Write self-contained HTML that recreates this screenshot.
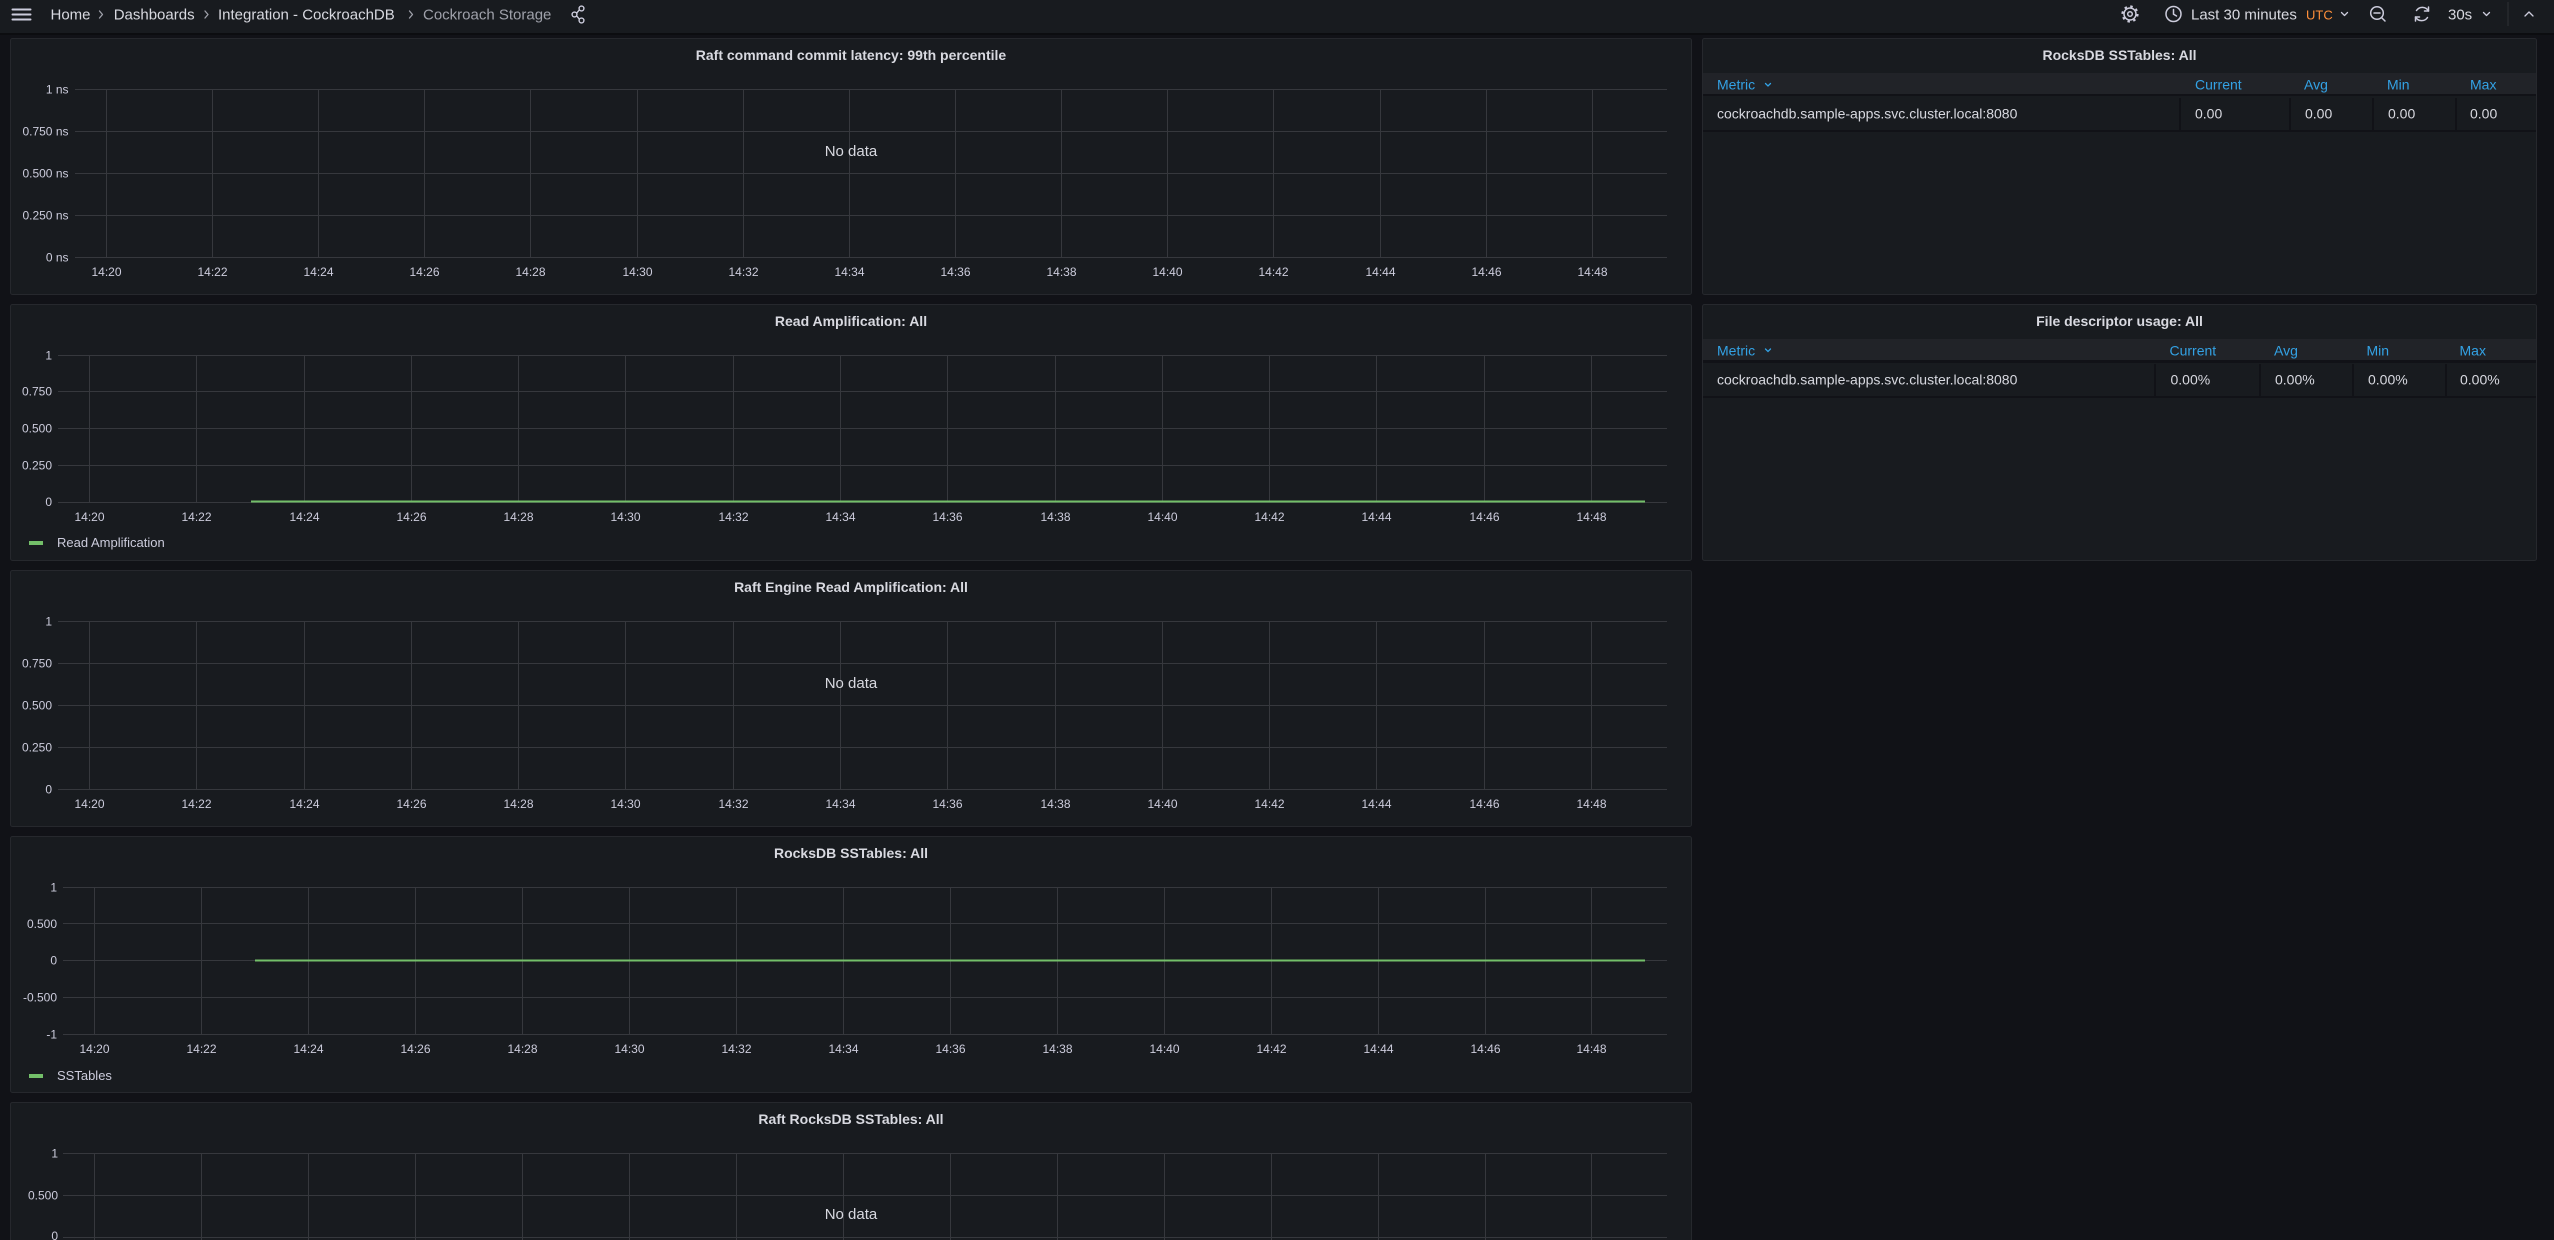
<!DOCTYPE html>
<html>
<head>
<meta charset="utf-8">
<style>
html,body{margin:0;padding:0;background:#111217;width:2554px;height:1240px;overflow:hidden;}
svg{display:block;font-family:"Liberation Sans",Arial,sans-serif;}
</style>
</head>
<body>
<svg width="2554" height="1240" viewBox="0 0 2554 1240" xmlns="http://www.w3.org/2000/svg">
<rect x="0" y="0" width="2554" height="1240" fill="#111217"/>

<!-- TOP BAR -->
<rect x="0" y="0" width="2554" height="33" fill="#181b1f"/>
<rect x="0" y="33" width="2554" height="2" fill="#0c0d10"/>
<g stroke="#ccccdc" stroke-width="2" stroke-linecap="round">
<path d="M12.5 9.5H30.5M12.5 14.5H30.5M12.5 19.5H30.5"/>
</g>
<g font-size="15" fill="#d8d9e0">
<text x="50.5" y="19.5">Home</text>
<text x="113.7" y="19.5">Dashboards</text>
<text x="218" y="19.5">Integration - CockroachDB</text>
<text x="423" y="19.5" fill="#9fa1aa">Cockroach Storage</text>
</g>
<g fill="none" stroke="#9fa1aa" stroke-width="1.3" stroke-linecap="round" stroke-linejoin="round">
<path d="M99.5 11L102.5 14.5L99.5 18"/>
<path d="M205 11L208 14.5L205 18"/>
<path d="M409.5 11L412.5 14.5L409.5 18"/>
</g>
<!-- share -->
<g fill="none" stroke="#ccccdc" stroke-width="1.4">
<circle cx="581.5" cy="8.5" r="2.4"/>
<circle cx="574.5" cy="14.5" r="2.4"/>
<circle cx="581.5" cy="20.5" r="2.4"/>
<path d="M576.6 13.2L579.4 9.8M576.6 15.8L579.4 19.2"/>
</g>
<!-- gear -->
<g fill="none" stroke="#ccccdc" stroke-width="1.5">
<circle cx="2130" cy="14" r="6"/>
<circle cx="2130" cy="14" r="2.3"/>
<circle cx="2130" cy="14" r="7.6" stroke-dasharray="2.5 3.47" stroke-width="2"/>
</g>
<!-- clock -->
<g fill="none" stroke="#ccccdc" stroke-width="1.5" stroke-linecap="round">
<circle cx="2173.5" cy="14" r="7.5"/>
<path d="M2173.5 9.5V14.2L2176.5 16"/>
</g>
<text x="2191" y="19.5" font-size="15" fill="#d8d9e0">Last 30 minutes</text>
<text x="2306" y="19.5" font-size="13" fill="#ff8f3a">UTC</text>
<g fill="none" stroke="#ccccdc" stroke-width="1.3" stroke-linecap="round" stroke-linejoin="round">
<path d="M2341.5 12.5L2344.5 15.5L2347.5 12.5"/>
<path d="M2483.5 12.5L2486.5 15.5L2489.5 12.5"/>
<path d="M2525 16L2529 12L2533 16"/>
</g>
<!-- zoom out -->
<g fill="none" stroke="#ccccdc" stroke-width="1.5" stroke-linecap="round">
<circle cx="2377" cy="13" r="6.3"/>
<path d="M2381.6 17.6L2385 21M2374 13H2380"/>
</g>
<!-- refresh -->
<g fill="none" stroke="#ccccdc" stroke-width="1.5" stroke-linecap="round" stroke-linejoin="round">
<path d="M2416.5 10.5A7 7 0 0 1 2428.5 11"/>
<path d="M2427.5 17.5A7 7 0 0 1 2415.5 17"/>
<path d="M2428.5 7V11H2424.5"/>
<path d="M2415.5 21V17H2419.5"/>
</g>
<text x="2448" y="19.5" font-size="15" fill="#d8d9e0">30s</text>
<rect x="2507.5" y="2" width="1" height="24" fill="#2e3036"/>

<!-- PANELS backgrounds -->
<g fill="#181b1f" stroke="#26282d" stroke-width="1">
<rect x="10.5" y="38.5" width="1681" height="256" rx="2"/>
<rect x="10.5" y="304.5" width="1681" height="256" rx="2"/>
<rect x="10.5" y="570.5" width="1681" height="256" rx="2"/>
<rect x="10.5" y="836.5" width="1681" height="256" rx="2"/>
<path d="M10.5 1240V1104.5Q10.5 1102.5 12.5 1102.5H1689.5Q1691.5 1102.5 1691.5 1104.5V1240"/>
<rect x="1702.5" y="38.5" width="834" height="256" rx="2"/>
<rect x="1702.5" y="304.5" width="834" height="256" rx="2"/>
</g>

<!-- PANEL TITLES -->
<g font-size="14" font-weight="bold" fill="#d8d9e0" text-anchor="middle">
<text x="851" y="60">Raft command commit latency: 99th percentile</text>
<text x="851" y="326">Read Amplification: All</text>
<text x="851" y="592">Raft Engine Read Amplification: All</text>
<text x="851" y="858">RocksDB SSTables: All</text>
<text x="851" y="1124">Raft RocksDB SSTables: All</text>
<text x="2119.5" y="60">RocksDB SSTables: All</text>
<text x="2119.5" y="326">File descriptor usage: All</text>
</g>

<!-- GRIDS -->
<g fill="none" stroke="#36383d" stroke-width="1" shape-rendering="crispEdges">
<!-- P1 -->
<path d="M75 89.5H1667M75 131.5H1667M75 173.5H1667M75 215.5H1667M75 257.5H1667"/>
<path d="M106.5 89.5V257.5M212.5 89.5V257.5M318.5 89.5V257.5M424.5 89.5V257.5M530.5 89.5V257.5M637.5 89.5V257.5M743.5 89.5V257.5M849.5 89.5V257.5M955.5 89.5V257.5M1061.5 89.5V257.5M1167.5 89.5V257.5M1273.5 89.5V257.5M1380.5 89.5V257.5M1486.5 89.5V257.5M1592.5 89.5V257.5"/>
<!-- P2 -->
<path d="M58 355.5H1667M58 391.5H1667M58 428.5H1667M58 465.5H1667M58 502.5H1667"/>
<path d="M89.5 355.5V502.5M196.5 355.5V502.5M304.5 355.5V502.5M411.5 355.5V502.5M518.5 355.5V502.5M625.5 355.5V502.5M733.5 355.5V502.5M840.5 355.5V502.5M947.5 355.5V502.5M1055.5 355.5V502.5M1162.5 355.5V502.5M1269.5 355.5V502.5M1376.5 355.5V502.5M1484.5 355.5V502.5M1591.5 355.5V502.5"/>
<!-- P3 -->
<path d="M58 621.5H1667M58 663.5H1667M58 705.5H1667M58 747.5H1667M58 789.5H1667"/>
<path d="M89.5 621.5V789.5M196.5 621.5V789.5M304.5 621.5V789.5M411.5 621.5V789.5M518.5 621.5V789.5M625.5 621.5V789.5M733.5 621.5V789.5M840.5 621.5V789.5M947.5 621.5V789.5M1055.5 621.5V789.5M1162.5 621.5V789.5M1269.5 621.5V789.5M1376.5 621.5V789.5M1484.5 621.5V789.5M1591.5 621.5V789.5"/>
<!-- P4 -->
<path d="M63 887.5H1667M63 923.5H1667M63 960.5H1667M63 997.5H1667M63 1034.5H1667"/>
<path d="M94.5 887.5V1034.5M201.5 887.5V1034.5M308.5 887.5V1034.5M415.5 887.5V1034.5M522.5 887.5V1034.5M629.5 887.5V1034.5M736.5 887.5V1034.5M843.5 887.5V1034.5M950.5 887.5V1034.5M1057.5 887.5V1034.5M1164.5 887.5V1034.5M1271.5 887.5V1034.5M1378.5 887.5V1034.5M1485.5 887.5V1034.5M1591.5 887.5V1034.5"/>
<!-- P5 -->
<path d="M63 1153.5H1667M63 1195.5H1667M63 1237.5H1667"/>
<path d="M94.5 1153.5V1240M201.5 1153.5V1240M308.5 1153.5V1240M415.5 1153.5V1240M522.5 1153.5V1240M629.5 1153.5V1240M736.5 1153.5V1240M843.5 1153.5V1240M950.5 1153.5V1240M1057.5 1153.5V1240M1164.5 1153.5V1240M1271.5 1153.5V1240M1378.5 1153.5V1240M1485.5 1153.5V1240M1591.5 1153.5V1240"/>
</g>

<!-- SERIES -->
<g stroke="#73bf69" stroke-width="2" fill="none">
<path d="M251 501.5H1645"/>
<path d="M255 960.5H1645"/>
</g>

<!-- Y LABELS -->
<g font-size="12" fill="#ccccdc" text-anchor="end">
<text x="68.5" y="93.5">1 ns</text>
<text x="68.5" y="135.5">0.750 ns</text>
<text x="68.5" y="177.5">0.500 ns</text>
<text x="68.5" y="219.5">0.250 ns</text>
<text x="68.5" y="261.5">0 ns</text>

<text x="52" y="359.5">1</text>
<text x="52" y="395.7">0.750</text>
<text x="52" y="432.7">0.500</text>
<text x="52" y="469.7">0.250</text>
<text x="52" y="506.2">0</text>

<text x="52" y="625.5">1</text>
<text x="52" y="667.5">0.750</text>
<text x="52" y="709.5">0.500</text>
<text x="52" y="751.5">0.250</text>
<text x="52" y="793.5">0</text>

<text x="57" y="891.5">1</text>
<text x="57" y="928">0.500</text>
<text x="57" y="964.5">0</text>
<text x="57" y="1001.5">-0.500</text>
<text x="57" y="1038.5">-1</text>

<text x="58" y="1157.5">1</text>
<text x="58" y="1199.5">0.500</text>
<text x="58" y="1240">0</text>
</g>

<!-- X LABELS -->
<g font-size="12" fill="#ccccdc" text-anchor="middle">
<g transform="translate(0,276)">
<text x="106.5">14:20</text><text x="212.5">14:22</text><text x="318.5">14:24</text><text x="424.5">14:26</text><text x="530.5">14:28</text><text x="637.5">14:30</text><text x="743.5">14:32</text><text x="849.5">14:34</text><text x="955.5">14:36</text><text x="1061.5">14:38</text><text x="1167.5">14:40</text><text x="1273.5">14:42</text><text x="1380.5">14:44</text><text x="1486.5">14:46</text><text x="1592.5">14:48</text>
</g>
<g transform="translate(0,521)">
<text x="89.5">14:20</text><text x="196.5">14:22</text><text x="304.5">14:24</text><text x="411.5">14:26</text><text x="518.5">14:28</text><text x="625.5">14:30</text><text x="733.5">14:32</text><text x="840.5">14:34</text><text x="947.5">14:36</text><text x="1055.5">14:38</text><text x="1162.5">14:40</text><text x="1269.5">14:42</text><text x="1376.5">14:44</text><text x="1484.5">14:46</text><text x="1591.5">14:48</text>
</g>
<g transform="translate(0,808.2)">
<text x="89.5">14:20</text><text x="196.5">14:22</text><text x="304.5">14:24</text><text x="411.5">14:26</text><text x="518.5">14:28</text><text x="625.5">14:30</text><text x="733.5">14:32</text><text x="840.5">14:34</text><text x="947.5">14:36</text><text x="1055.5">14:38</text><text x="1162.5">14:40</text><text x="1269.5">14:42</text><text x="1376.5">14:44</text><text x="1484.5">14:46</text><text x="1591.5">14:48</text>
</g>
<g transform="translate(0,1053.2)">
<text x="94.5">14:20</text><text x="201.5">14:22</text><text x="308.5">14:24</text><text x="415.5">14:26</text><text x="522.5">14:28</text><text x="629.5">14:30</text><text x="736.5">14:32</text><text x="843.5">14:34</text><text x="950.5">14:36</text><text x="1057.5">14:38</text><text x="1164.5">14:40</text><text x="1271.5">14:42</text><text x="1378.5">14:44</text><text x="1485.5">14:46</text><text x="1591.5">14:48</text>
</g>
</g>

<!-- NO DATA -->
<g font-size="15" fill="#d8d9e0" text-anchor="middle">
<text x="851" y="156">No data</text>
<text x="851" y="688">No data</text>
<text x="851" y="1219">No data</text>
</g>

<!-- LEGENDS -->
<rect x="29" y="541" width="14" height="4" fill="#73bf69"/>
<text x="57" y="547.2" font-size="13" fill="#ccccdc">Read Amplification</text>
<rect x="29" y="1074" width="14" height="4" fill="#73bf69"/>
<text x="57" y="1080.2" font-size="13" fill="#ccccdc">SSTables</text>

<!-- RIGHT TABLE 1 -->
<rect x="1703" y="73" width="833" height="21" fill="#212328"/>
<rect x="1703" y="94" width="833" height="2" fill="#111217"/>
<rect x="1703" y="130" width="833" height="2" fill="#111217"/>
<g fill="#111217">
<rect x="2179" y="98" width="2" height="32"/>
<rect x="2289" y="98" width="2" height="32"/>
<rect x="2372" y="98" width="2" height="32"/>
<rect x="2455" y="98" width="2" height="32"/>
</g>
<g font-size="14" fill="#33a2e5">
<text x="1717" y="89.7">Metric</text>
<text x="2195" y="89.7">Current</text>
<text x="2304" y="89.7">Avg</text>
<text x="2387" y="89.7">Min</text>
<text x="2470" y="89.7">Max</text>
</g>
<path d="M1765.5 83.5L1768 86L1770.5 83.5" fill="none" stroke="#33a2e5" stroke-width="1.3" stroke-linecap="round"/>
<g font-size="14" fill="#d8d9e0">
<text x="1717" y="118.7">cockroachdb.sample-apps.svc.cluster.local:8080</text>
<text x="2195" y="118.7">0.00</text>
<text x="2305" y="118.7">0.00</text>
<text x="2388" y="118.7">0.00</text>
<text x="2470" y="118.7">0.00</text>
</g>

<!-- RIGHT TABLE 2 -->
<rect x="1703" y="339" width="833" height="21" fill="#212328"/>
<rect x="1703" y="360" width="833" height="3" fill="#111217"/>
<rect x="1703" y="396" width="833" height="2" fill="#111217"/>
<g fill="#111217">
<rect x="2154" y="364" width="2" height="32"/>
<rect x="2259" y="364" width="2" height="32"/>
<rect x="2352" y="364" width="2" height="32"/>
<rect x="2445" y="364" width="2" height="32"/>
</g>
<g font-size="14" fill="#33a2e5">
<text x="1717" y="355.3">Metric</text>
<text x="2169.5" y="355.3">Current</text>
<text x="2274" y="355.3">Avg</text>
<text x="2366.5" y="355.3">Min</text>
<text x="2459.5" y="355.3">Max</text>
</g>
<path d="M1765.5 349L1768 351.5L1770.5 349" fill="none" stroke="#33a2e5" stroke-width="1.3" stroke-linecap="round"/>
<g font-size="14" fill="#d8d9e0">
<text x="1717" y="384.3">cockroachdb.sample-apps.svc.cluster.local:8080</text>
<text x="2170.5" y="384.3">0.00%</text>
<text x="2275" y="384.3">0.00%</text>
<text x="2368" y="384.3">0.00%</text>
<text x="2460" y="384.3">0.00%</text>
</g>
</svg>
</body>
</html>
